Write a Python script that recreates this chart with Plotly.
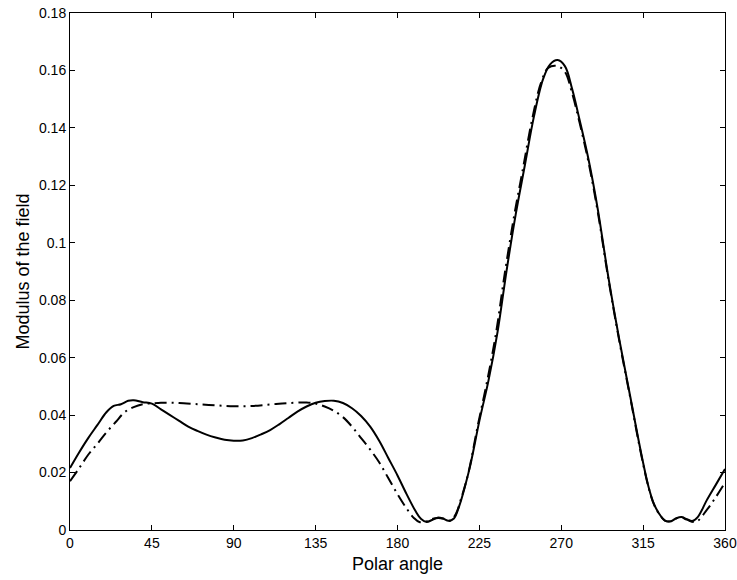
import plotly.graph_objects as go

# Solid curve
angle_solid = [0, 5, 10, 15, 20, 24, 28, 32, 35, 40, 45, 50, 55, 60, 65, 70, 75, 80, 85, 90,
               95, 100, 105, 110, 115, 120, 125, 130, 135, 140, 145, 150, 155, 160, 165, 170,
               175, 180, 185, 190, 193, 196, 199, 202, 205, 208, 211, 214, 217, 220, 225, 230,
               235, 240, 245, 250, 255, 260, 264, 268, 272, 276, 280, 285, 290, 296, 302, 308,
               314, 318, 321, 324, 327, 330, 333, 336, 339, 342, 345, 350, 355, 360]
field_solid = [0.0216, 0.0270, 0.0320, 0.0365, 0.0410, 0.0432, 0.0438, 0.0450, 0.0452, 0.0445,
               0.0440, 0.0420, 0.0400, 0.0380, 0.0360, 0.0345, 0.0332, 0.0322, 0.0314, 0.0311,
               0.0312, 0.0320, 0.0333, 0.0348, 0.0368, 0.0390, 0.0412, 0.0430, 0.0443, 0.0449,
               0.0450, 0.0442, 0.0424, 0.0397, 0.0360, 0.0310, 0.0250, 0.0190, 0.0125, 0.0065,
               0.0038, 0.0028, 0.0035, 0.0043, 0.0040, 0.0032, 0.0040, 0.0085, 0.0150, 0.0225,
               0.0380, 0.0520, 0.0690, 0.0905, 0.1100, 0.1270, 0.1440, 0.1570, 0.1622, 0.1636,
               0.1615, 0.1535, 0.1430, 0.1290, 0.1120, 0.0876, 0.0660, 0.0462, 0.0265, 0.0150,
               0.0090, 0.0055, 0.0033, 0.0030, 0.0040, 0.0045, 0.0038, 0.0031, 0.0045, 0.0104,
               0.0158, 0.0212]

# Dash-dot curve
angle_dash = [0, 5, 10, 15, 20, 25, 30, 35, 40, 45, 50, 55, 60, 70, 80, 90, 100, 110, 120, 130,
              135, 140, 145, 150, 155, 160, 165, 170, 175, 180, 185, 189, 192, 196, 200, 205,
              209, 212, 215, 219, 224, 229, 234, 239, 244, 249, 254, 259, 263, 268, 272, 276,
              280, 285, 290, 296, 302, 308, 314, 318, 321, 324, 327, 330, 333, 336, 339, 344,
              350, 355, 360]
field_dash = [0.0170, 0.0215, 0.0262, 0.0300, 0.0340, 0.0375, 0.0410, 0.0428, 0.0438, 0.0441,
              0.0443, 0.0443, 0.0442, 0.0438, 0.0434, 0.0431, 0.0432, 0.0437, 0.0442, 0.0444,
              0.0440, 0.0430, 0.0415, 0.0393, 0.0360, 0.0320, 0.0280, 0.0235, 0.0180, 0.0125,
              0.0075, 0.0042, 0.0028, 0.0030, 0.0040, 0.0040, 0.0032, 0.0055, 0.0110, 0.0200,
              0.0360, 0.0510, 0.0680, 0.0895, 0.1090, 0.1260, 0.1430, 0.1560, 0.1610, 0.1615,
              0.1595, 0.1520, 0.1420, 0.1280, 0.1110, 0.0870, 0.0655, 0.0458, 0.0260, 0.0148,
              0.0088, 0.0054, 0.0033, 0.0030, 0.0040, 0.0044, 0.0036, 0.0028, 0.0070, 0.0115,
              0.0165]

x_ticks = [0, 45, 90, 135, 180, 225, 270, 315, 360]
y_ticks = [0, 0.02, 0.04, 0.06, 0.08, 0.1, 0.12, 0.14, 0.16, 0.18]
y_tick_labels = ["0", "0.02", "0.04", "0.06", "0.08", "0.1", "0.12", "0.14", "0.16", "0.18"]

font_family = "Liberation Sans, Arial"

fig = go.Figure()
fig.add_trace(go.Scatter(x=angle_dash, y=field_dash, mode="lines", line_shape="spline",
                         line=dict(color="black", width=2, dash="12px,5px,2px,5px"),
                         showlegend=False))
fig.add_trace(go.Scatter(x=angle_solid, y=field_solid, mode="lines", line_shape="spline",
                         line=dict(color="black", width=2), showlegend=False))

axis_common = dict(showgrid=False, zeroline=False, showline=True, linecolor="black",
                   linewidth=1, mirror="ticks", ticks="inside", ticklen=5, automargin=False,
                   ticklabeloverflow="allow",
                   tickcolor="black", tickfont=dict(family=font_family, size=14, color="black"))
fig.update_xaxes(range=[0, 360], tickvals=x_ticks, ticktext=[str(v) for v in x_ticks],
                 title=dict(text="Polar angle", standoff=7,
                            font=dict(family=font_family, size=18, color="black")),
                 **axis_common)
fig.update_yaxes(range=[0, 0.18], tickvals=y_ticks, ticktext=y_tick_labels,
                 title=dict(text="Modulus of the field", standoff=4,
                            font=dict(family=font_family, size=18, color="black")),
                 **axis_common)
fig.update_layout(width=737, height=580, plot_bgcolor="white", paper_bgcolor="white",
                  margin=dict(l=70, r=12, t=13, b=50))
fig.write_html("out.html", config={"displayModeBar": False},
               post_script="document.body.style.margin='0';document.body.style.overflow='hidden';")
